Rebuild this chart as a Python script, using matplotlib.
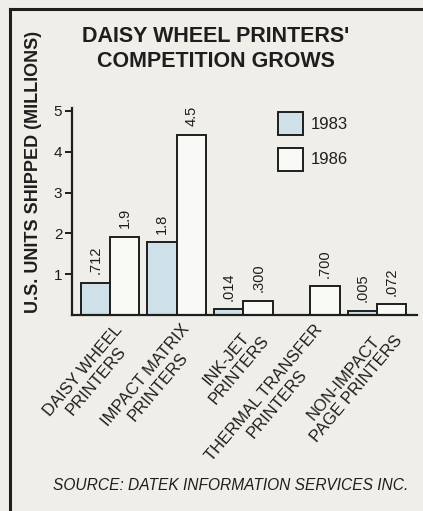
import matplotlib
matplotlib.use("Agg")
import matplotlib.pyplot as plt
import matplotlib.transforms as mtransforms
from matplotlib.lines import Line2D
import numpy as np

# ---- data ----
categories = ["DAISY WHEEL\nPRINTERS", "IMPACT MATRIX\nPRINTERS", "INK-JET\nPRINTERS",
              "THERMAL TRANSFER\nPRINTERS", "NON-IMPACT\nPAGE PRINTERS"]
series_names = ["1983", "1986"]
# bar heights as drawn in the reference (millions of units)
heights_1983 = [0.79, 1.78, 0.15, np.nan, 0.11]
heights_1986 = [1.92, 4.42, 0.35, 0.70, 0.27]
# printed value labels
labels_1983 = [".712", "1.8", ".014", "", ".005"]
labels_1986 = ["1.9", "4.5", ".300", ".700", ".072"]
yticks = [1, 2, 3, 4, 5]

title = "DAISY WHEEL PRINTERS'\nCOMPETITION GROWS"
ylabel = "U.S. UNITS SHIPPED (MILLIONS)"
source = "SOURCE: DATEK INFORMATION SERVICES INC."

# ---- style ----
BG = "#efeee9"
INK = "#1e1e1e"
C83 = "#cfe1e8"
C86 = "#f9f9f5"
FONT = "Liberation Sans"
plt.rcParams["font.family"] = [FONT, "DejaVu Sans"]

W, H = 423, 511
fig = plt.figure(figsize=(W / 100, H / 100), dpi=100, facecolor=BG)

ax_left, ax_right = 72 / W, 417 / W
ax_bottom, ax_top = (H - 315) / H, (H - 108) / H
ax = fig.add_axes([ax_left, ax_bottom, ax_right - ax_left, ax_top - ax_bottom])
ax.set_facecolor("none")

x = np.arange(len(categories))
bw = 0.44
b1 = ax.bar(x - bw / 2, heights_1983, bw, color=C83, edgecolor=INK, linewidth=1.4,
            label=series_names[0])
b2 = ax.bar(x + bw / 2, heights_1986, bw, color=C86, edgecolor=INK, linewidth=1.4,
            label=series_names[1])

for rects, labs in ((b1, labels_1983), (b2, labels_1986)):
    for r, lab in zip(rects, labs):
        h = r.get_height()
        if lab and np.isfinite(h):
            ax.annotate(lab, (r.get_x() + r.get_width() / 2, h), xytext=(0, 6),
                        textcoords="offset points", rotation=90, ha="center",
                        va="bottom", fontsize=10.5, color=INK)

ax.set_xlim(-0.57, 4.6)
ax.set_ylim(0, 5.07)
ax.set_yticks(yticks)
ax.set_yticklabels([str(t) for t in yticks], fontsize=11, color=INK)
ax.tick_params(axis="y", direction="out", length=5, width=1.4, color=INK, pad=2)

ax.set_xticks(x)
ax.set_xticklabels(categories, rotation=50, ha="right", rotation_mode="anchor",
                   multialignment="center", fontsize=12, color=INK, linespacing=1.15)
ax.tick_params(axis="x", length=0, pad=5)
offset = mtransforms.ScaledTranslation(4 / 100, 0, fig.dpi_scale_trans)
for lab in ax.get_xticklabels():
    lab.set_transform(lab.get_transform() + offset)

for s in ("top", "right"):
    ax.spines[s].set_visible(False)
for s in ("left", "bottom"):
    ax.spines[s].set_linewidth(1.6)
    ax.spines[s].set_color(INK)

leg = ax.legend(loc="upper left", bbox_to_anchor=(278 / W, 1 - 112 / H),
                bbox_transform=fig.transFigure, frameon=False, fontsize=12,
                handlelength=1.5, handleheight=1.75, handletextpad=0.45,
                labelspacing=0.75, borderpad=0, borderaxespad=0)
for t in leg.get_texts():
    t.set_color(INK)

fig.text(216 / W, 1 - 26 / H, title, ha="center", va="top", fontsize=15.5,
         fontweight="bold", color=INK, linespacing=1.28)
fig.text(34 / W, 1 - 172 / H, ylabel, ha="center", va="center", rotation=90,
         fontsize=13, fontweight="bold", color=INK)
fig.text(231 / W, 1 - 485 / H, source, ha="center", va="center", fontsize=11.2,
         style="italic", color=INK)

# frame lines (top and left)
fig.add_artist(Line2D([10 / W, 1.0], [1 - 9 / H, 1 - 9 / H], transform=fig.transFigure,
                      color=INK, linewidth=2.2))
fig.add_artist(Line2D([10 / W, 10 / W], [0, 1 - 9 / H], transform=fig.transFigure,
                      color=INK, linewidth=2.2))

fig.savefig("out.png", dpi=100, facecolor=BG)
